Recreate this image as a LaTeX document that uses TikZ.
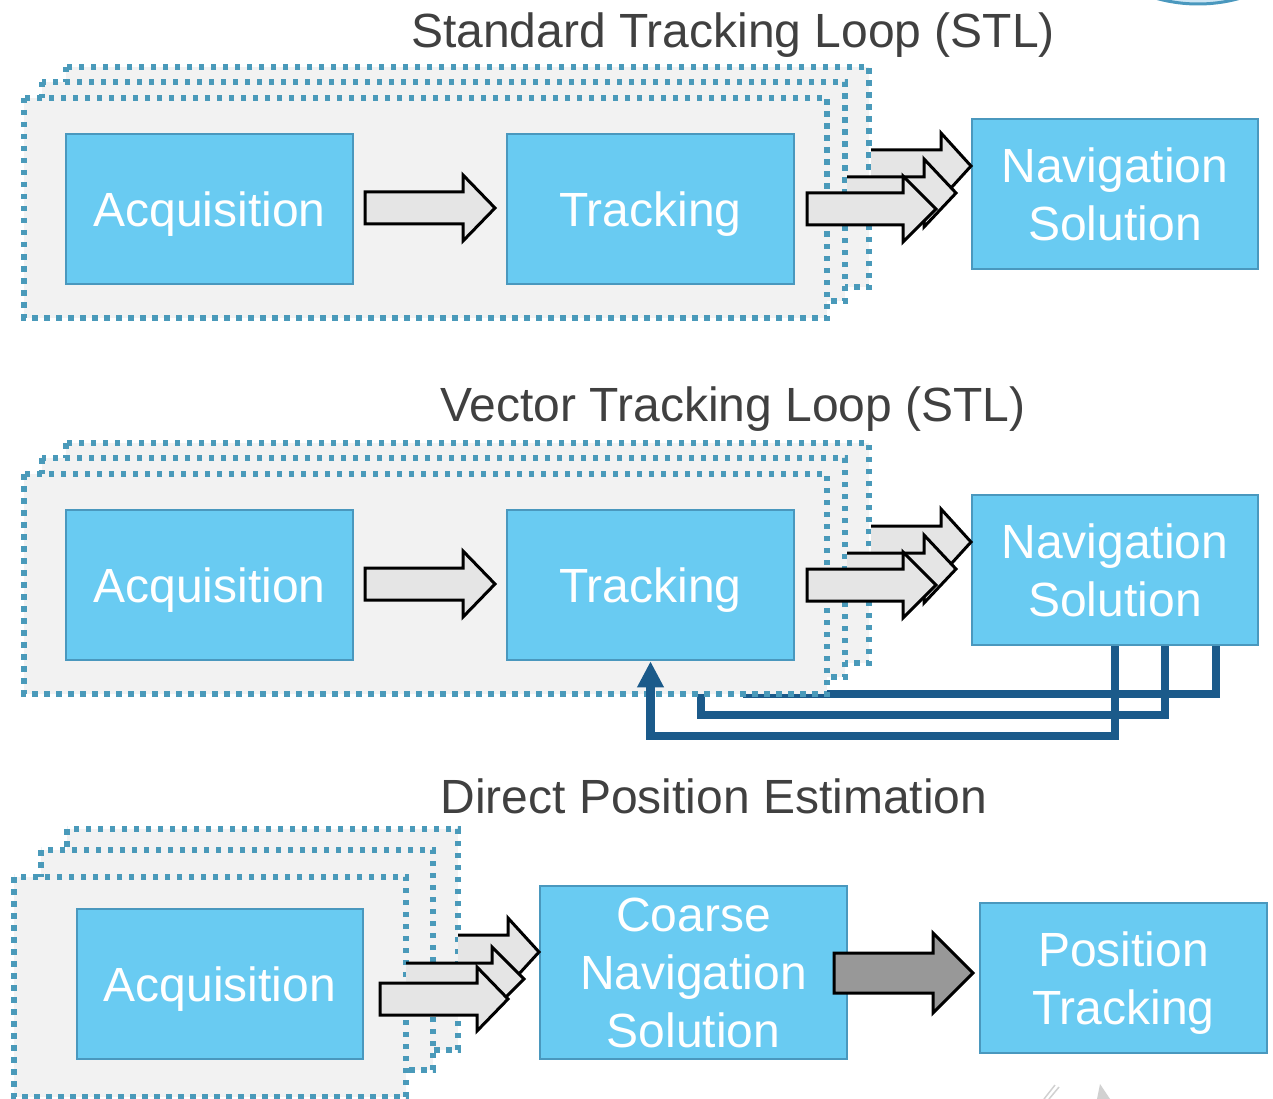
\documentclass[tikz,border=0pt]{standalone}
\usepackage{fontspec}
\setmainfont{Liberation Sans}
\usetikzlibrary{arrows.meta}

\definecolor{boxblue}{RGB}{105,203,242}
\definecolor{boxedge}{RGB}{74,152,190}
\definecolor{dotblue}{RGB}{74,154,186}
\definecolor{panelgray}{RGB}{242,242,242}
\definecolor{arrowgray}{RGB}{229,229,229}
\definecolor{darkarrow}{RGB}{152,152,152}
\definecolor{fbblue}{RGB}{27,90,138}
\definecolor{titlegray}{RGB}{64,64,64}
\definecolor{discfill}{RGB}{205,230,244}

\pgfdeclarelayer{back}
\pgfsetlayers{back,main}

\tikzset{
  stage/.style={draw=boxedge, line width=2.5pt, fill=boxblue, minimum width=287pt,
    minimum height=150pt, inner sep=0pt, text=white, align=center,
    font=\fontsize{48}{58}\selectfont},
  oneline/.style={text height=34pt, text depth=0pt},
  layer/.style={draw=dotblue, fill=panelgray, line width=5.5pt, dash pattern=on 5.5pt off 6.5pt},
  heading/.style={text=titlegray, anchor=base, inner sep=0pt, font=\fontsize{48}{58}\selectfont},
  lightarrow/.style={fill=arrowgray, draw=black, line width=3pt, line join=miter},
  heavyarrow/.style={fill=darkarrow, draw=black, line width=3pt, line join=miter},
  arrowedge/.style={draw=black, line width=3pt, line join=miter},
  feedback/.style={draw=fbblue, line width=8.5pt},
}

% closed block arrow: options, x start, x head base, x tip, y axis, half shaft, half head
\newcommand\fatarrow[7]{%
  \path[#1] (#2,#5-#6) -- (#3,#5-#6) -- (#3,#5-#7) -- (#4,#5) -- (#3,#5+#7)
    -- (#3,#5+#6) -- (#2,#5+#6) -- cycle;}
% block arrow whose tail disappears behind a panel
\newcommand\tailarrow[6]{%
  \fill[arrowgray] (#1,#4-#5) -- (#2,#4-#5) -- (#2,#4-#6) -- (#3,#4) -- (#2,#4+#6)
    -- (#2,#4+#5) -- (#1,#4+#5) -- cycle;
  \draw[arrowedge] (#1,#4-#5) -- (#2,#4-#5) -- (#2,#4-#6) -- (#3,#4) -- (#2,#4+#6)
    -- (#2,#4+#5) -- (#1,#4+#5);}

\begin{document}
\begin{tikzpicture}[x=1pt, y=-1pt]
\useasboundingbox (0,0) rectangle (1273,1099);

% disc peeking in at the top edge
\begin{scope}
  \clip (0,0) rectangle (1273,1099);
  \draw[draw=boxedge, line width=3pt, fill=discfill] (1198,-151) circle[radius=155pt];
\end{scope}

% ---------------- Standard tracking loop ----------------
\node[heading] (titleA) at (733,48) {Standard Tracking Loop (STL)};
\draw[layer] (66,67) rectangle (869,287);
\draw[layer] (42,82) rectangle (845,301);
\draw[layer] (24,98) rectangle (827,318);

\node[stage, oneline] (acqA) at (209.5,209) {Acquisition};
\node[stage, oneline] (trkA) at (650.5,209) {Tracking};
\node[stage, minimum width=286pt] (navA) at (1115,194) {Navigation\\Solution};

\fatarrow{lightarrow}{365}{463}{495}{208}{16}{33}
\tailarrow{871}{941}{971}{166}{16}{33}
\tailarrow{847}{924}{956}{193}{16}{34}
\fatarrow{lightarrow}{807}{903}{936}{209}{16}{33}

% ---------------- Vector tracking loop ----------------
\node[heading] (titleB) at (733,421) {Vector Tracking Loop (STL)};
\draw[layer] (66,443) rectangle (869,663);
\draw[layer] (42,458) rectangle (845,677);
\draw[layer] (24,474) rectangle (827,694);

\node[stage, oneline] (acqB) at (209.5,585) {Acquisition};
\node[stage, oneline] (trkB) at (650.5,585) {Tracking};
\node[stage, minimum width=286pt] (navB) at (1115,570) {Navigation\\Solution};

\fatarrow{lightarrow}{365}{463}{495}{584}{16}{33}
\tailarrow{871}{941}{971}{542}{16}{33}
\tailarrow{847}{924}{956}{569}{16}{34}
\fatarrow{lightarrow}{807}{903}{936}{585}{16}{33}

% feedback from the navigation solution to the tracking channels
\coordinate (fbOuter) at (1115,736);
\coordinate (fbMid) at (1165,715);
\coordinate (fbInner) at (1216,694);
\coordinate (fbMidEnd) at (701,670);
\coordinate (fbInnerEnd) at (747,670);
\begin{pgfonlayer}{back}
  \draw[feedback] (navB.south -| fbMid) -- (fbMid) -| (fbMidEnd);
  \draw[feedback] (navB.south -| fbInner) -- (fbInner) -| (fbInnerEnd);
\end{pgfonlayer}
\draw[feedback, -{Triangle[length=26pt, width=25pt]}]
  (navB.south -| fbOuter) -- (fbOuter) -| (trkB.south);

% ---------------- Direct position estimation ----------------
\node[heading] (titleC) at (714,813) {Direct Position Estimation};
\draw[layer] (67,829) rectangle (458,1050);
\draw[layer] (41,850) rectangle (433,1070);
\draw[layer] (14,877) rectangle (406,1097);

\node[stage, oneline, minimum width=286pt] (acqC) at (220,984) {Acquisition};
\node[stage, minimum width=307pt, minimum height=173pt] (cnsC) at (693.5,972.5) {Coarse\\Navigation\\Solution};
\node[stage] (posC) at (1123.5,978) {Position\\\smash{Tracking}};

\tailarrow{458}{508}{539}{952}{17}{34}
\tailarrow{406}{492}{524}{979}{16}{32}
\fatarrow{lightarrow}{380}{477}{508}{999}{16}{32}
\fatarrow{heavyarrow}{834}{933}{973}{973}{20}{40}

% faint marks along the lower edge
\draw[black!18, line width=1.5pt] (1044,1099) -- (1055,1085);
\draw[black!18, line width=1.5pt] (1049,1099) -- (1059,1087);
\fill[black!18] (1097,1099) -- (1100,1084) -- (1110,1099) -- cycle;
\end{tikzpicture}
\end{document}
